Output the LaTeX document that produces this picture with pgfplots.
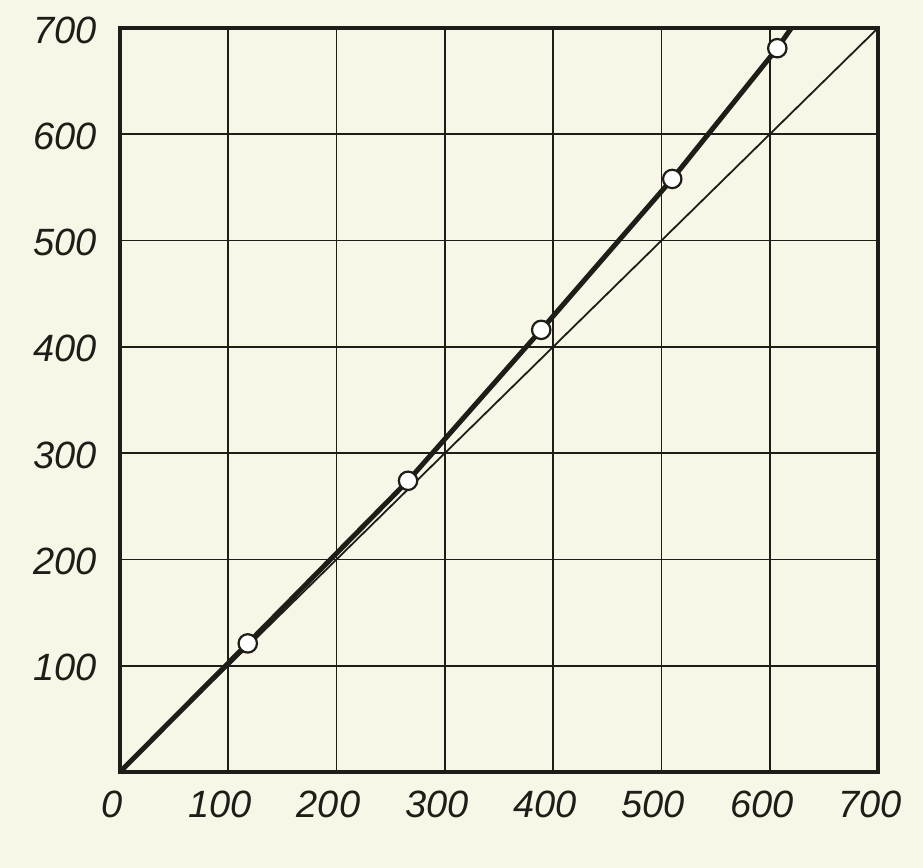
\documentclass[border=0pt]{standalone}
\usepackage{pgfplots}
\pgfplotsset{compat=1.18}
\usepackage{fontspec}
\setmainfont{Liberation Sans}
\definecolor{paper}{HTML}{F8F6E6}
\definecolor{ink}{HTML}{1E1E18}
\begin{document}
\begin{tikzpicture}
\path[use as bounding box, fill=paper] (-60pt,-48pt) rectangle (401.5pt,386pt);
\begin{axis}[
  at={(0,0)}, anchor=south west,
  scale only axis, width=379pt, height=372pt,
  xmin=0, xmax=700, ymin=0, ymax=700,
  xtick={0,100,...,700}, ytick={100,200,...,700},
  grid=major,
  major grid style={ink, line width=0.9pt},
  axis line style={ink, line width=1.8pt},
  tick style={draw=none},
  /pgf/number format/assume math mode=true,
  ticklabel style={font=\fontsize{19}{22}\selectfont\itshape, text=ink},
  xticklabel style={xshift=-4pt, yshift=-6pt},
  yticklabel style={xshift=-8pt, yshift=-1pt},
  clip=true,
]
% thin reference line y = x
\addplot[ink, line width=0.9pt] coordinates {(0,0) (700,700)};
% thick measured line
\addplot[ink, line width=2.5pt] coordinates {(0,0) (118,121) (266,274) (389,416) (510,558) (607,681) (620,700)};
% measured points
\addplot[only marks, mark=*, mark size=4.6pt, mark options={fill=white, draw=ink, line width=1.1pt}] coordinates {(118,121) (266,274) (389,416) (510,558) (607,681)};
\end{axis}
\end{tikzpicture}
\end{document}
